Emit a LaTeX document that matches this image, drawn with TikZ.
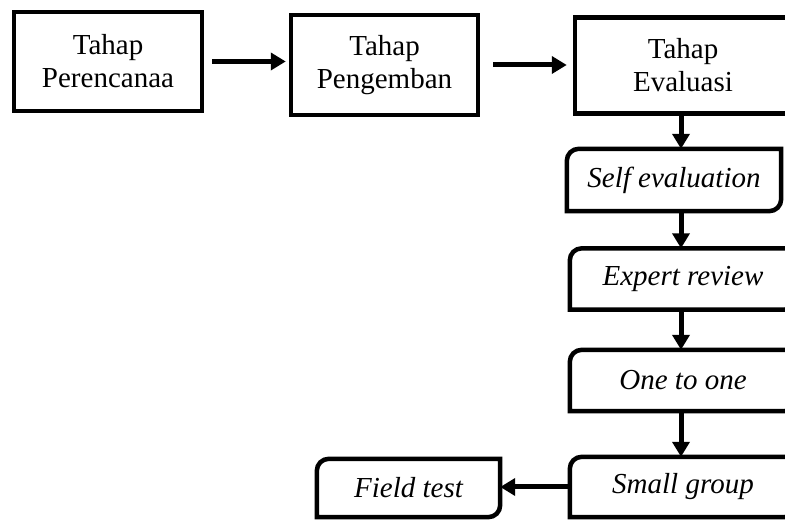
\documentclass[tikz,border=0pt]{standalone}
\usepackage{fontspec}
\setmainfont{Liberation Serif}
\usetikzlibrary{arrows.meta}
\tikzset{
    tahap/.style={
        rectangle,
        draw,
        line width=4.5pt,
        inner sep=0pt,
        align=center,
        font=\fontsize{29}{33}\selectfont
    },
    uji/.style={
        rectangle,
        inner sep=0pt,
        font=\fontsize{29}{33}\selectfont\itshape
    },
    panah/.style={
        -{Triangle[length=15pt,width=17pt]},
        line width=5pt
    }
}
\begin{document}
\begin{tikzpicture}[x=1pt,y=1pt]
\clip (0,0) rectangle (785,521);
\node[tahap, minimum width=188pt, minimum height=99pt] (rencana) at (108,459.5) {Tahap\\Perencanaa};
\node[tahap, minimum width=187pt, minimum height=100pt] (kembang) at (384.5,456) {Tahap\\Pengemban};
\node[tahap, minimum width=216pt, minimum height=96pt] (evaluasi) at (683,455.5) {Tahap\\Evaluasi};
\node[uji, minimum width=214pt, minimum height=62pt] (self) at (674,341) {Self evaluation};
\node[uji, minimum width=226pt, minimum height=61pt] (expert) at (683,242) {Expert review};
\node[uji, minimum width=226pt, minimum height=61pt] (one) at (683,140.5) {One to one};
\node[uji, minimum width=226pt, minimum height=60pt] (small) at (683,34) {Small group};
\node[uji, minimum width=183pt, minimum height=58pt] (field) at (408.5,33) {Field test};
\coordinate (kolom) at (681,0);
% kotak sudut bulat diagonal
\foreach \n in {self,expert,one,small,field}
  \draw[line width=4.5pt] (\n.south west) -- ([yshift=-12pt]\n.north west)
    arc[start angle=180,end angle=90,radius=12pt] -- (\n.north east)
    -- ([yshift=12pt]\n.south east) arc[start angle=0,end angle=-90,radius=12pt] -- cycle;
\draw[panah, shorten <=8pt, shorten >=3pt] (rencana.east) -- (rencana.east -| kembang.west);
\draw[panah, shorten <=13pt, shorten >=6pt] (kembang.east) -- (kembang.east -| evaluasi.west);
\draw[panah] (evaluasi.south -| kolom) -- (self.north -| kolom);
\draw[panah] (self.south -| kolom) -- (expert.north -| kolom);
\draw[panah] (expert.south -| kolom) -- (one.north -| kolom);
\draw[panah] (one.south -| kolom) -- (small.north -| kolom);
\draw[panah] (small.west) -- (small.west -| field.east);
\end{tikzpicture}
\end{document}
